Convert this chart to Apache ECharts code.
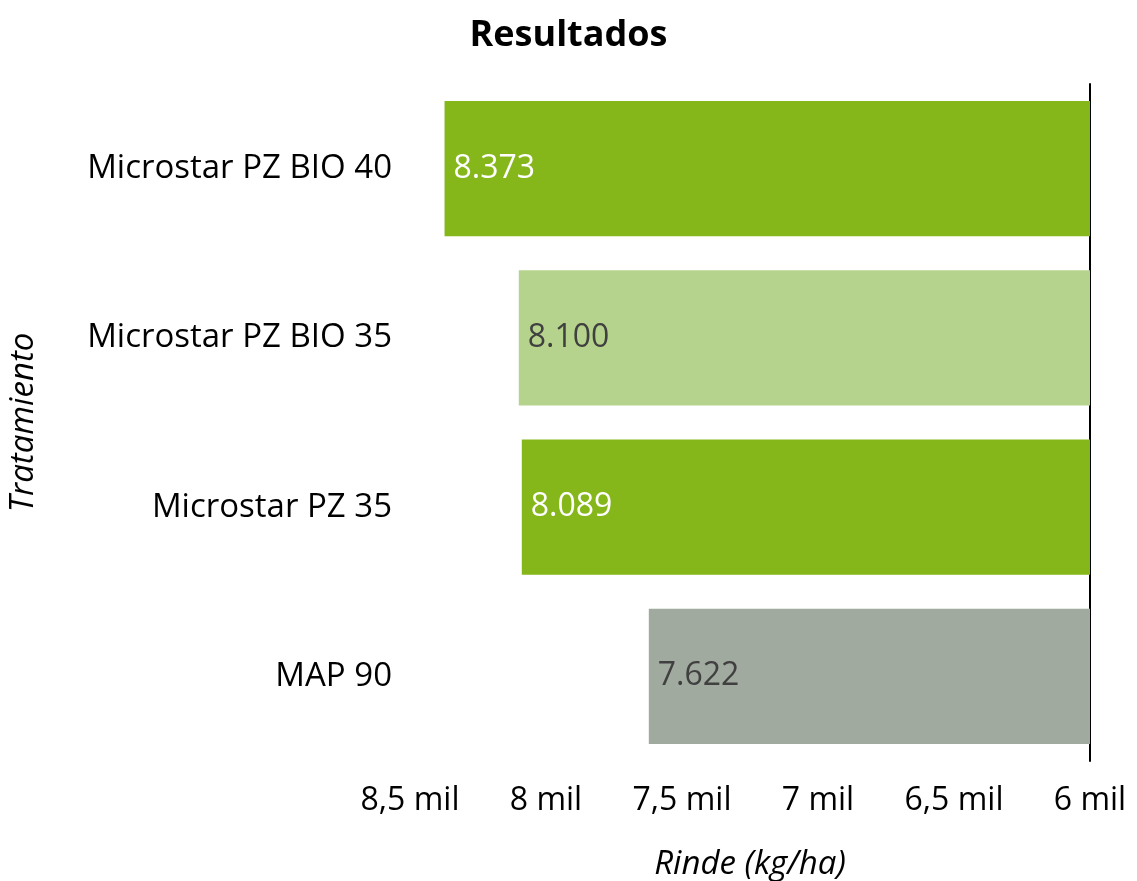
<!DOCTYPE html>
<html>
<head>
<meta charset="utf-8">
<script src="https://cdn.jsdelivr.net/npm/echarts@6/dist/echarts.min.js"></script>
<style>
  html, body { margin: 0; padding: 0; background: #fff; }
  #main { width: 1137px; height: 881px; }
</style>
</head>
<body>
<div id="main"></div>
<script>
// datos del gráfico
var tratamientos = ["Microstar PZ BIO 40", "Microstar PZ BIO 35", "Microstar PZ 35", "MAP 90"];
var rinde = [8373, 8100, 8089, 7622];

// colores por barra
var barColors = ["#85b71a", "#b5d38c", "#85b71a", "#a1aa9f"];
var labelColors = ["#ffffff", "#404040", "#ffffff", "#404040"];

var FONT = "Open Sans";

function fmtMil(v) {
  return String(v / 1000).replace(".", ",") + " mil";
}
function fmtNum(v) {
  return String(v).replace(/\B(?=(\d{3})+(?!\d))/g, ".");
}

var chart = echarts.init(document.getElementById("main"));

var option = {
  backgroundColor: "#fff",
  animation: false,
  title: {
    text: "Resultados",
    left: "center",
    top: 13,
    textStyle: { fontFamily: FONT, fontSize: 36, fontWeight: "bold", color: "#000" }
  },
  grid: { left: 410, right: 47, top: 84, bottom: 120, containLabel: false, outerBoundsMode: "none" },
  xAxis: {
    type: "value",
    inverse: true,
    min: 6000,
    max: 8500,
    interval: 500,
    name: "Rinde (kg/ha)",
    nameLocation: "middle",
    nameGap: 87,
    nameTextStyle: { fontFamily: FONT, fontSize: 33, fontStyle: "italic", color: "#000" },
    axisLine: { show: false },
    axisTick: { show: false },
    splitLine: { show: false },
    axisLabel: {
      fontFamily: FONT, fontSize: 32, color: "#000", margin: 24,
      formatter: fmtMil
    }
  },
  yAxis: [
    {
      type: "category",
      inverse: true,
      position: "left",
      data: tratamientos,
      name: "Tratamiento",
      nameLocation: "middle",
      nameGap: 370,
      nameTextStyle: { fontFamily: FONT, fontSize: 33, fontStyle: "italic", color: "#000" },
      axisLine: { show: false },
      axisTick: { show: false },
      axisLabel: { fontFamily: FONT, fontSize: 33, color: "#000", margin: 18 }
    },
    {
      type: "category",
      inverse: true,
      position: "right",
      data: tratamientos,
      axisLine: { show: true, lineStyle: { color: "#000", width: 2 } },
      axisTick: { show: false },
      axisLabel: { show: false }
    }
  ],
  series: [
    {
      type: "bar",
      yAxisIndex: 0,
      barCategoryGap: "20%",
      data: rinde.map(function (v, i) {
        return {
          value: v,
          itemStyle: { color: barColors[i] },
          label: { color: labelColors[i] }
        };
      }),
      label: {
        show: true,
        position: "insideLeft",
        distance: 9,
        fontFamily: FONT,
        fontSize: 32,
        formatter: function (p) { return fmtNum(p.value); }
      }
    }
  ]
};

chart.setOption(option);
</script>
</body>
</html>
